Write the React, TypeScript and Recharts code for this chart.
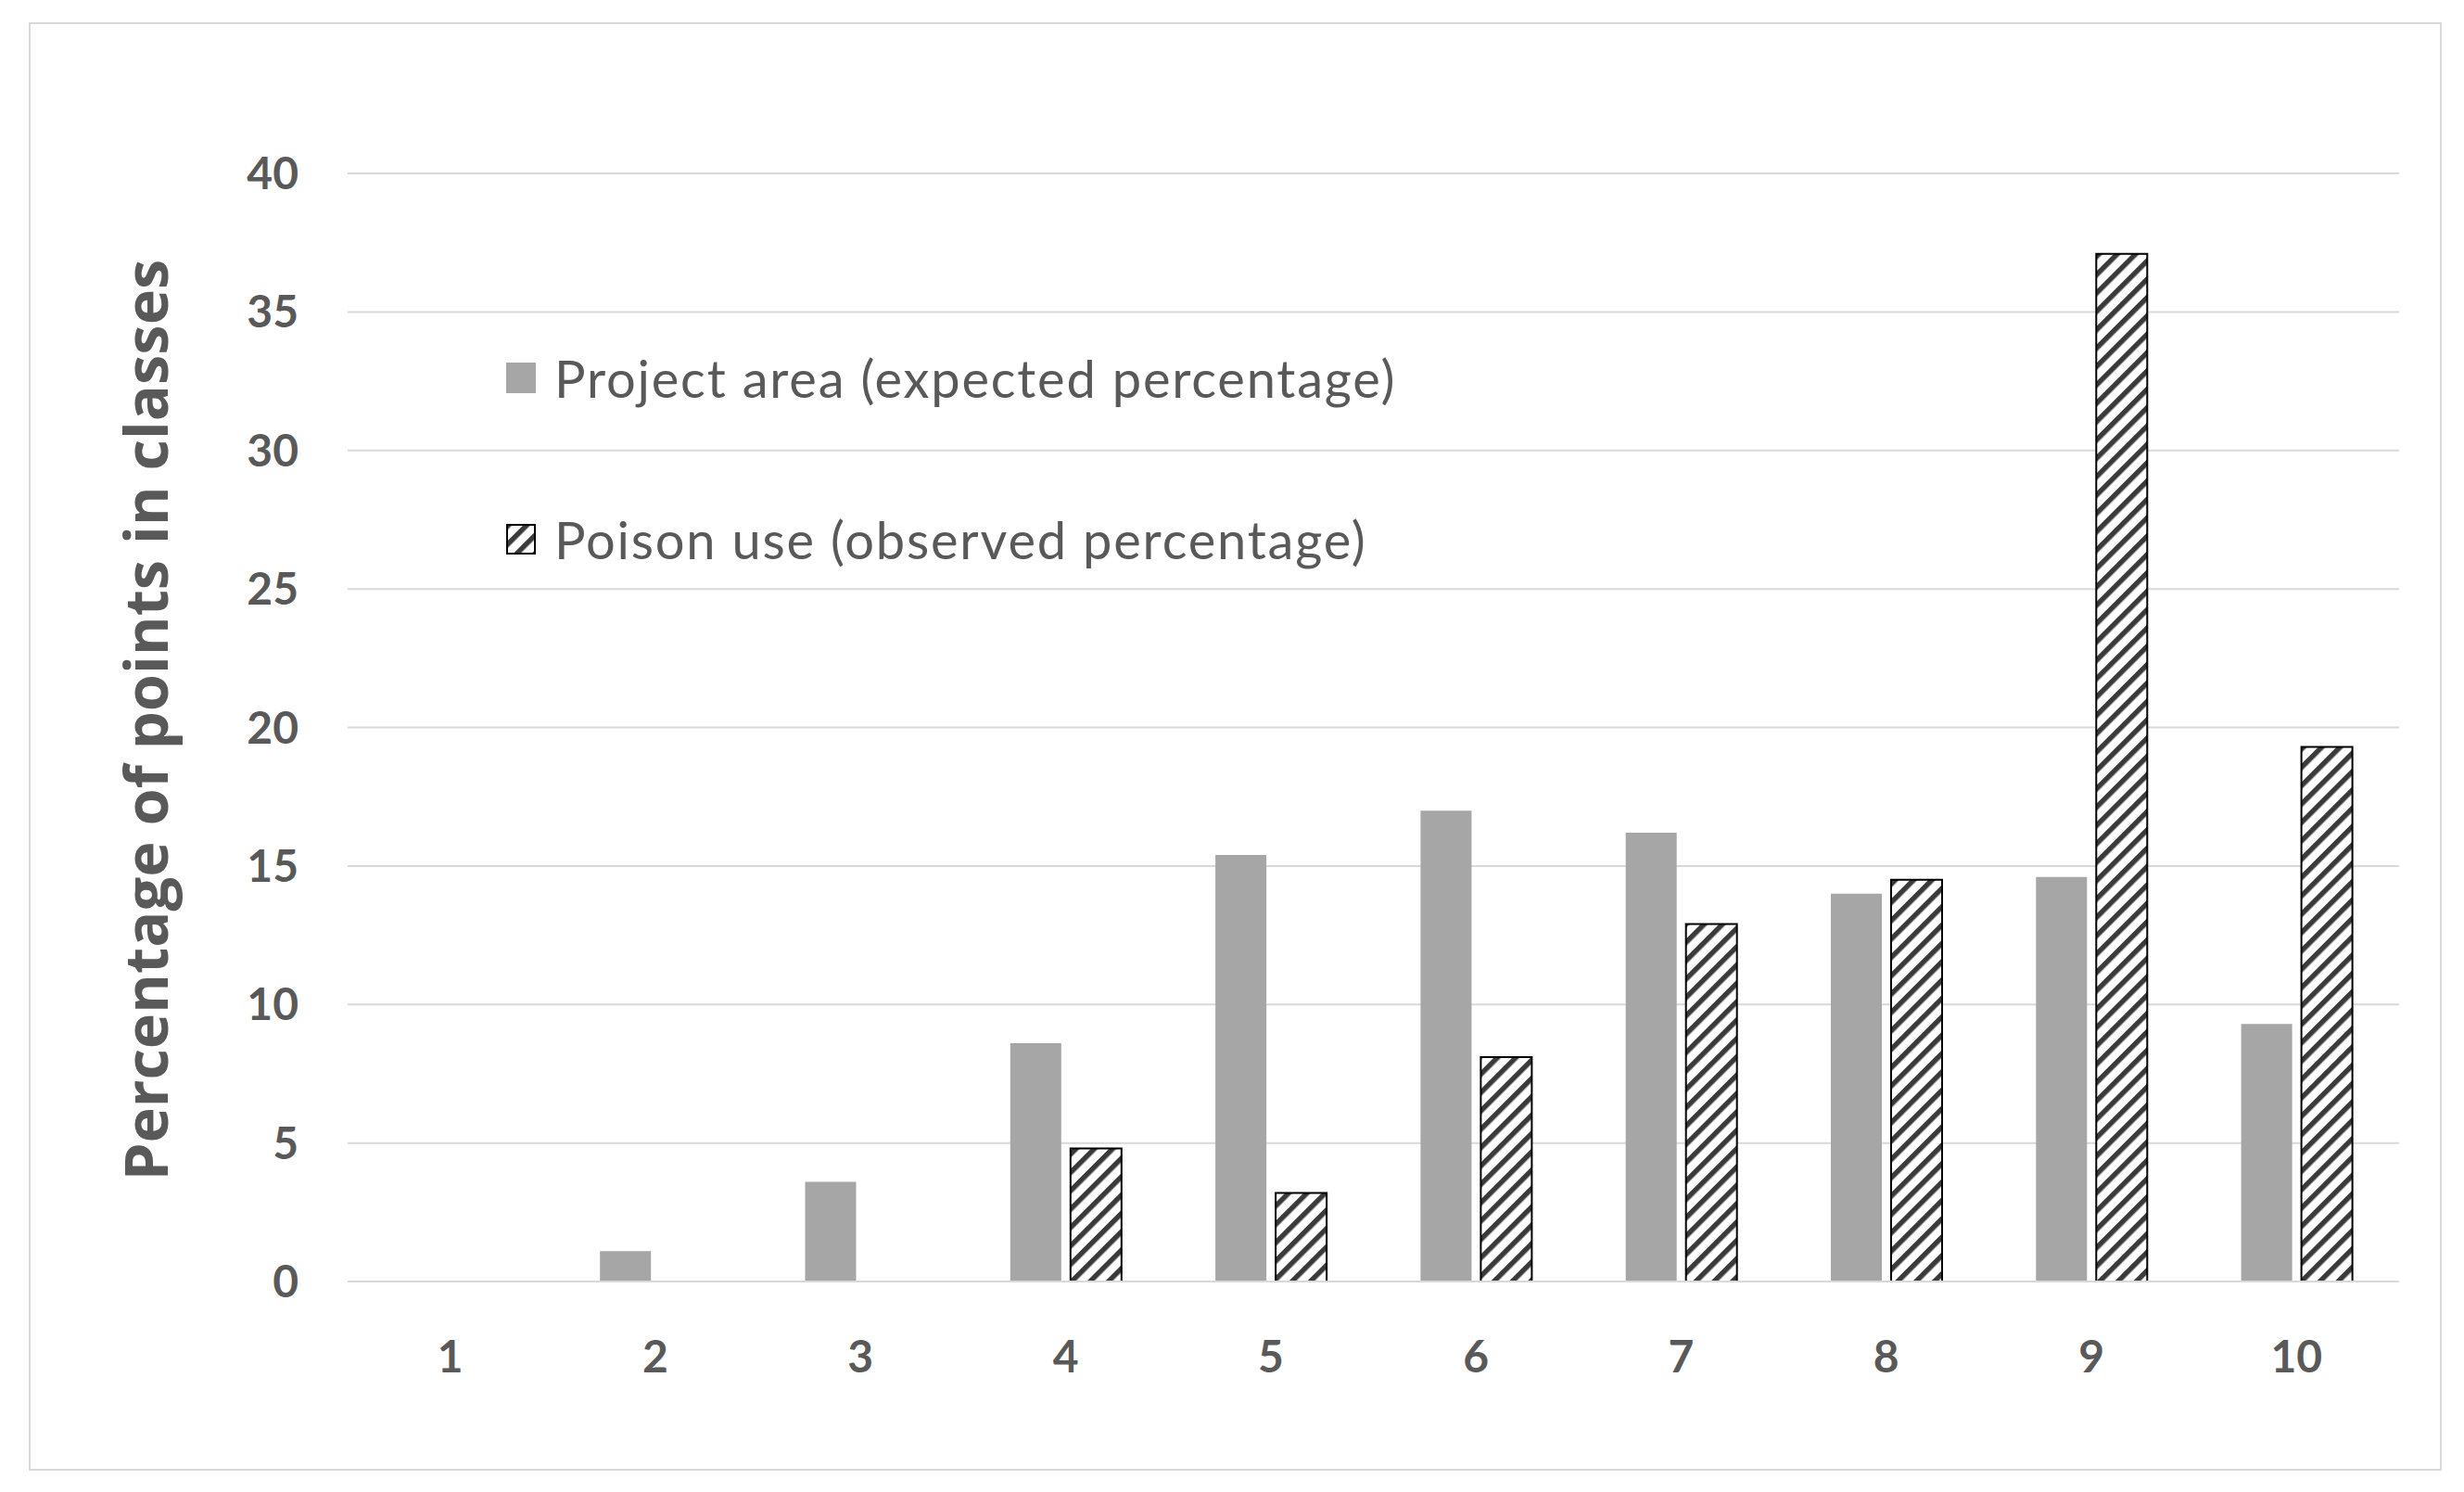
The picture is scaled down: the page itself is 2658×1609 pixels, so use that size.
import React from 'react';
import {
  BarChart,
  Bar,
  XAxis,
  YAxis,
  CartesianGrid,
  Legend,
} from 'recharts';

const categories = ['1', '2', '3', '4', '5', '6', '7', '8', '9', '10'];
const projectArea = [0, 1.1, 3.6, 8.6, 15.4, 17.0, 16.2, 14.0, 14.6, 9.3];
const poisonUse = [0, 0, 0, 4.8, 3.2, 8.1, 12.9, 14.5, 37.1, 19.3];
const yTicks = [0, 5, 10, 15, 20, 25, 30, 35, 40];

const seriesNames = {
  project: 'Project area (expected percentage)',
  poison: 'Poison use (observed percentage)',
};

const data = categories.map((name, i) => ({
  name,
  project: projectArea[i],
  poison: poisonUse[i],
}));

const textGray = '#595959';
const barGray = '#a6a6a6';
const gridGray = '#d9d9d9';

const HatchDef = ({ id }) => (
  <pattern
    id={id}
    patternUnits="userSpaceOnUse"
    width={14}
    height={14}
    patternTransform="rotate(45)"
  >
    <rect x={0} y={0} width={14} height={14} fill="#ffffff" />
    <rect x={0} y={0} width={5.5} height={14} fill="#3a3a3a" />
  </pattern>
);

const LegendContent = () => (
  <div style={{ fontFamily: 'Lato', fontSize: 56, color: textGray, letterSpacing: 1.8 }}>
    <div style={{ display: 'flex', alignItems: 'center', height: 60 }}>
      <div style={{ width: 32, height: 33, background: barGray, marginRight: 20 }} />
      <span>{seriesNames.project}</span>
    </div>
    <div style={{ display: 'flex', alignItems: 'center', height: 60, marginTop: 114 }}>
      <svg width={32} height={33} style={{ marginRight: 20 }}>
        <defs>
          <HatchDef id="hatchLegend" />
        </defs>
        <rect x={1} y={1} width={30} height={31} fill="url(#hatchLegend)" stroke="#000" strokeWidth={2} />
      </svg>
      <span>{seriesNames.poison}</span>
    </div>
  </div>
);

// y-axis title, placed left of the tick labels
const YTitle = ({ viewBox }) => {
  const x = viewBox.x - 119;
  const y = viewBox.y + viewBox.height / 2 - 8;
  return (
    <text
      x={x}
      y={y}
      transform={`rotate(-90 ${x} ${y})`}
      textAnchor="middle"
      dominantBaseline="central"
      fill={textGray}
      fontSize={65}
      fontFamily="Open Sans"
      fontWeight={700}
    >
      Percentage of points in classes
    </text>
  );
};

export default function App() {
  return (
    <div
      style={{
        position: 'absolute',
        left: 0,
        top: 0,
        width: 2658,
        height: 1609,
        background: '#ffffff',
      }}
    >
      <div
        style={{
          position: 'absolute',
          left: 31,
          top: 24,
          width: 2599,
          height: 1558,
          border: `2px solid ${gridGray}`,
        }}
      />
      <BarChart
        width={2658}
        height={1609}
        data={data}
        margin={{ top: 187, right: 70, bottom: 127, left: 275 }}
        barCategoryGap="23%"
        barGap={10}
      >
        <defs>
          <HatchDef id="hatchBar" />
        </defs>
        <CartesianGrid vertical={false} stroke={gridGray} strokeWidth={2} />
        <XAxis
          dataKey="name"
          height={100}
          axisLine={{ stroke: gridGray, strokeWidth: 2 }}
          tickLine={false}
          tickSize={0}
          tickMargin={64}
          tick={{ fill: textGray, fontSize: 48, fontFamily: 'Lato', fontWeight: 700 }}
        />
        <YAxis
          width={100}
          domain={[0, 40]}
          ticks={yTicks}
          axisLine={false}
          tickLine={false}
          tickSize={0}
          tickMargin={53}
          tick={{ fill: textGray, fontSize: 48, fontFamily: 'Lato', fontWeight: 700 }}
          label={{ content: YTitle }}
        />
        <Legend
          layout="vertical"
          verticalAlign="middle"
          align="center"
          content={<LegendContent />}
          wrapperStyle={{ left: 546, top: 377, width: 1200, height: 260 }}
        />
        <Bar
          dataKey="project"
          name={seriesNames.project}
          fill={barGray}
          isAnimationActive={false}
        />
        <Bar
          dataKey="poison"
          name={seriesNames.poison}
          fill="url(#hatchBar)"
          stroke="#000000"
          strokeWidth={2}
          isAnimationActive={false}
        />
      </BarChart>
    </div>
  );
}
